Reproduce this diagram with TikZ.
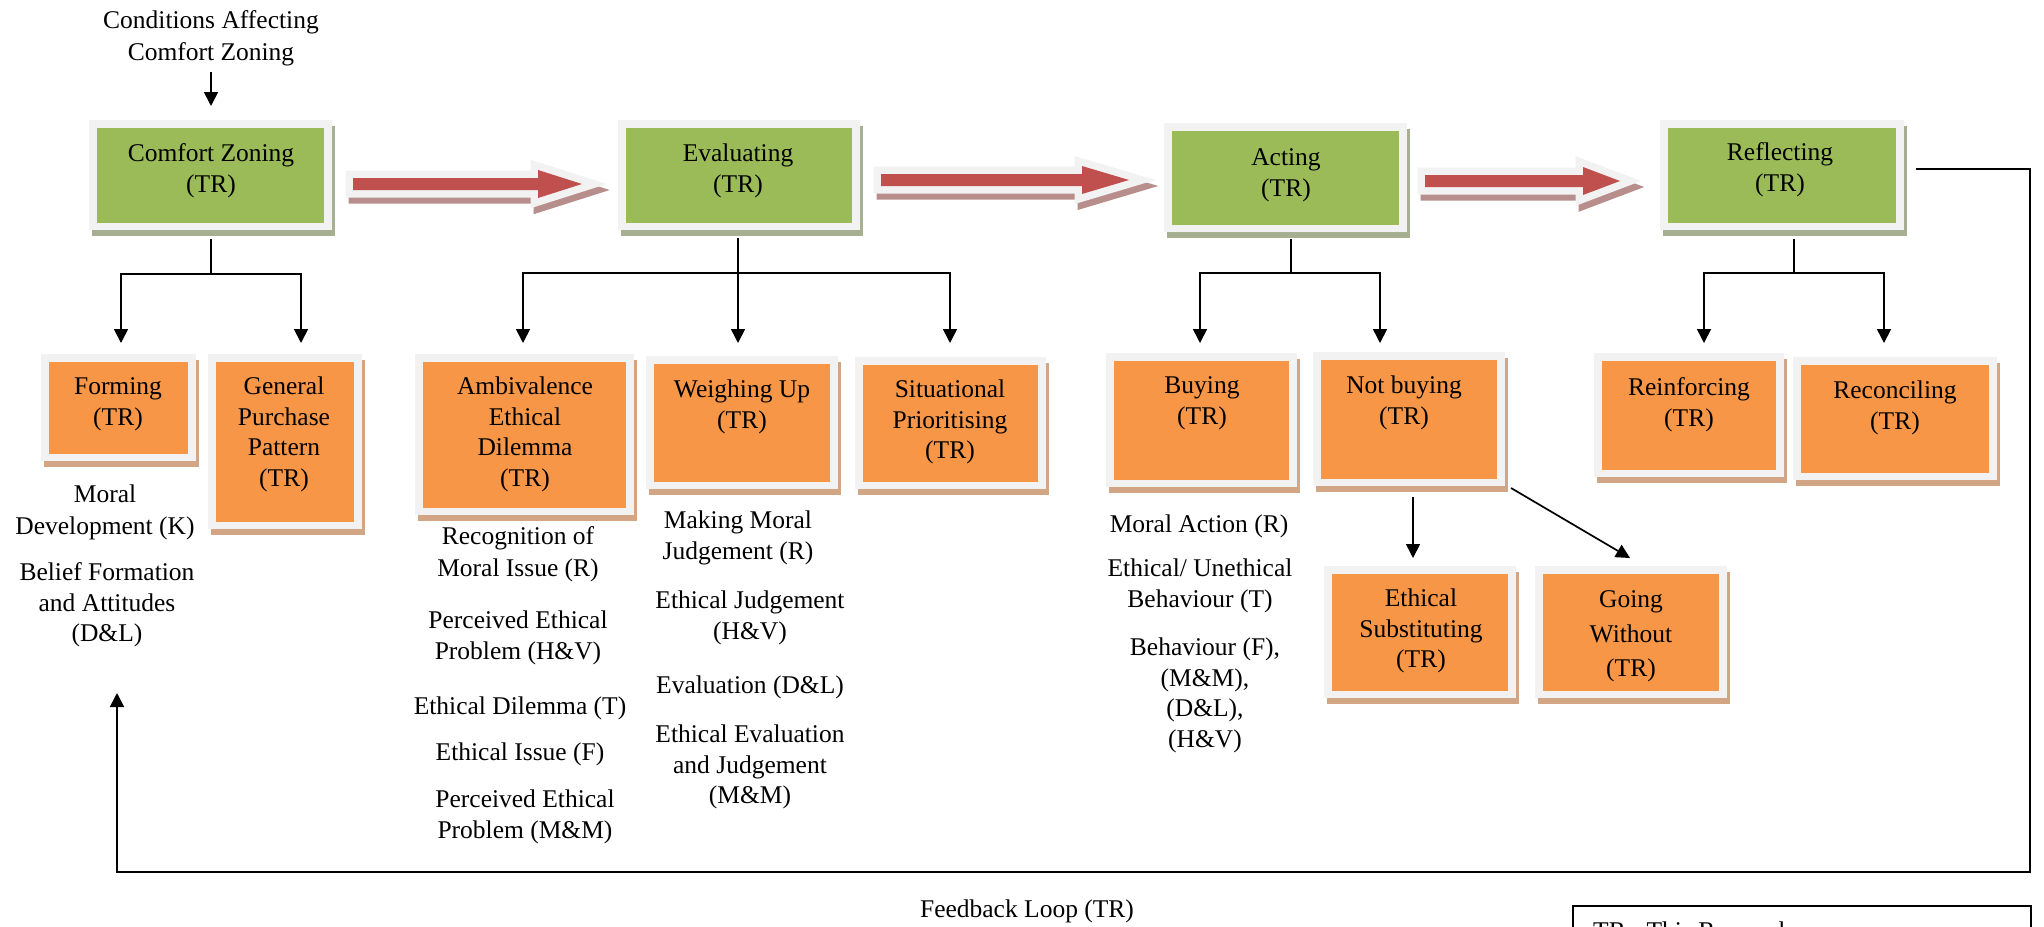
\documentclass[tikz,border=0pt]{standalone}
\usepackage{fontspec}
\setmainfont{Liberation Serif}
\usetikzlibrary{arrows.meta,shadows,calc}

\definecolor{stagegreen}{HTML}{9BBB59}
\definecolor{suborange}{HTML}{F79646}
\definecolor{framegrey}{HTML}{F2F2F2}
\definecolor{greenshadow}{HTML}{A7AF93}
\definecolor{orangeshadow}{HTML}{D2A585}
\definecolor{arrowred}{HTML}{C0504D}
\definecolor{arrowshadow}{HTML}{B88E8C}

\newcommand\dfont{\fontsize{25.5}{30.5}\selectfont}

% thick block arrow with a light outline and a soft offset shadow
% #1 tail point, #2 tip point, #3 head length (pt)
\newcommand\blockarrow[3]{%
  \filldraw[arrowshadow, line width=15pt, line join=miter]
    let \p1=(#1), \p2=(#2) in
    (\x1+3pt,\y1) -- (\x2-#3pt+3pt,\y1) -- (\x2-#3pt+3pt,\y1+8pt) -- (\x2+3pt,\y1-6pt)
    -- (\x2-#3pt+3pt,\y1-20pt) -- (\x2-#3pt+3pt,\y1-12pt) -- (\x1+3pt,\y1-12pt) -- cycle;
  \filldraw[framegrey, line width=15pt, line join=miter]
    let \p1=(#1), \p2=(#2) in
    (\x1,\y1+6pt) -- (\x2-#3pt,\y1+6pt) -- (\x2-#3pt,\y1+14pt) -- (\x2,\y1)
    -- (\x2-#3pt,\y1-14pt) -- (\x2-#3pt,\y1-6pt) -- (\x1,\y1-6pt) -- cycle;
  \fill[arrowred]
    let \p1=(#1), \p2=(#2) in
    (\x1,\y1+6pt) -- (\x2-#3pt,\y1+6pt) -- (\x2-#3pt,\y1+14pt) -- (\x2,\y1)
    -- (\x2-#3pt,\y1-14pt) -- (\x2-#3pt,\y1-6pt) -- (\x1,\y1-6pt) -- cycle;
}

\tikzset{
  boxbase/.style={fill=framegrey, inner sep=0pt, outer sep=0pt},
  stagebox/.style={boxbase,
    general shadow={fill=greenshadow, shadow xshift=3pt, shadow yshift=-6pt},
    path picture={\fill[stagegreen]
      ([shift={(8pt,7pt)}]path picture bounding box.south west) rectangle
      ([shift={(-8pt,-8pt)}]path picture bounding box.north east);}},
  subbox/.style={boxbase,
    general shadow={fill=orangeshadow, shadow xshift=3pt, shadow yshift=-6pt},
    path picture={\fill[suborange]
      ([shift={(8pt,7pt)}]path picture bounding box.south west) rectangle
      ([shift={(-8pt,-8pt)}]path picture bounding box.north east);}},
  txt/.style={anchor=north, inner sep=0pt, align=center, font=\dfont},
  conn/.style={line width=1.7pt},
  arr/.style={conn, -{Triangle[length=14pt,width=14pt]}},
}

\begin{document}
\begin{tikzpicture}[x=1pt, y=-1pt]
\useasboundingbox (0,0) rectangle (2044,926);
\fill[white] (0,0) rectangle (2044,926);
\clip (0,0) rectangle (2044,926);

% ---- main stages ----
\node[stagebox, minimum width=243pt, minimum height=110pt] (cz) at (210.5,175) {};
\node[stagebox, minimum width=242pt, minimum height=110pt] (ev) at (739,175) {};
\node[stagebox, minimum width=243pt, minimum height=109pt] (ac) at (1285.5,177.5) {};
\node[stagebox, minimum width=244pt, minimum height=110pt] (rf) at (1782,175) {};

\node[txt] (czt) at (211,140) {\strut Comfort Zoning\\(TR)};
\node[txt] (evt) at (738,140) {\strut Evaluating\\(TR)};
\node[txt] (act) at (1286,144) {\strut Acting\\(TR)};
\node[txt] (rft) at (1780,139) {\strut Reflecting\\(TR)};

% ---- sub-processes ----
\node[subbox, minimum width=155pt, minimum height=107pt] (fm) at (118.5,407.5) {};
\node[subbox, minimum width=154pt, minimum height=175pt] (gp) at (285,441.5) {};
\node[subbox, minimum width=219pt, minimum height=161pt] (am) at (524.5,434.5) {};
\node[subbox, minimum width=192pt, minimum height=133pt] (wu) at (742,422.5) {};
\node[subbox, minimum width=191pt, minimum height=132pt] (sp) at (950.5,423) {};
\node[subbox, minimum width=191pt, minimum height=134pt] (by) at (1201.5,420) {};
\node[subbox, minimum width=192pt, minimum height=134pt] (nb) at (1409,419) {};
\node[subbox, minimum width=190pt, minimum height=124pt] (ri) at (1689,415) {};
\node[subbox, minimum width=204pt, minimum height=123pt] (rc) at (1895,418.5) {};
\node[subbox, minimum width=192pt, minimum height=132pt] (es) at (1420,632) {};
\node[subbox, minimum width=192pt, minimum height=132pt] (gw) at (1631,632) {};

\node[txt] (fmt) at (118,373) {\strut Forming\\(TR)};
\node[txt] (gpt) at (284,373) {\strut General\\Purchase\\Pattern\\(TR)};
\node[txt] (amt) at (525,373) {\strut Ambivalence\\Ethical\\Dilemma\\(TR)};
\node[txt] (wut) at (742,376) {\strut Weighing Up\\(TR)};
\node[txt] (spt) at (950,376) {\strut Situational\\Prioritising\\(TR)};
\node[txt] (byt) at (1202,372) {\strut Buying\\(TR)};
\node[txt] (nbt) at (1404,372) {\strut Not buying\\(TR)};
\node[txt] (rit) at (1689,374) {\strut Reinforcing\\(TR)};
\node[txt] (rct) at (1895,377) {\strut Reconciling\\(TR)};
\node[txt] (est) at (1421,585) {\strut Ethical\\Substituting\\(TR)};
\node[txt] (gwt) at (1631,586) {\strut Going\\[4pt]Without\\[4pt](TR)};

% ---- block arrows between stages ----
\blockarrow{[shift={(21,9)}]cz.east}{[shift={(-36,9)}]ev.west}{44}
\blockarrow{[shift={(21,5)}]ev.east}{[shift={(-35,2.5)}]ac.west}{47}
\blockarrow{[shift={(18,3.5)}]ac.east}{[shift={(-40,6)}]rf.west}{37}

% ---- free text ----
\node[txt] (cond) at (211,7) {\strut Conditions Affecting\\[1.5pt]Comfort Zoning};
\node[txt] (moral) at (105,481) {\strut Moral\\[1.5pt]Development (K)};
\node[txt] (belief) at (107,559) {\strut Belief Formation\\and Attitudes\\(D\&L)};
\node[txt] (recog) at (518,523) {\strut Recognition of\\[1.5pt]Moral Issue (R)};
\node[txt] (perc1) at (518,607) {\strut Perceived Ethical\\Problem (H\&V)};
\node[txt] (dilem) at (520,693) {\strut Ethical Dilemma (T)};
\node[txt] (issue) at (520,739) {\strut Ethical Issue (F)};
\node[txt] (perc2) at (525,786) {\strut Perceived Ethical\\Problem (M\&M)};
\node[txt] (making) at (738,507) {\strut Making Moral\\Judgement (R)};
\node[txt] (ejudg) at (750,587) {\strut Ethical Judgement\\(H\&V)};
\node[txt] (evald) at (750,672) {\strut Evaluation (D\&L)};
\node[txt] (eeval) at (750,721) {\strut Ethical Evaluation\\and Judgement\\(M\&M)};
\node[txt] (maction) at (1199,511) {\strut Moral Action (R)};
\node[txt] (uneth) at (1200,555) {\strut Ethical/ Unethical\\Behaviour (T)};
\node[txt] (behav) at (1205,634) {\strut Behaviour (F),\\(M\&M),\\(D\&L),\\(H\&V)};
\node[txt] (fbtext) at (1027,896) {\strut Feedback Loop (TR)};

% ---- connectors ----
\draw[arr, shorten <=6pt, shorten >=14pt] (cond.south) -- ([shift={(0.5,0)}]cz.north);

\coordinate (czj) at (211,274);
\draw[conn] ([shift={(0.5,9)}]cz.south) -- (czj);
\draw[arr] (czj) -| ([shift={(2.5,-11)}]fm.north);
\draw[arr] (czj) -| ([shift={(16,-11)}]gp.north);

\coordinate (evj) at (738,273);
\draw[arr] ([shift={(-1,8)}]ev.south) -- ([shift={(-4,-13)}]wu.north);
\draw[arr] (evj) -| ([shift={(-1.5,-11)}]am.north);
\draw[arr] (evj) -| ([shift={(-0.5,-14)}]sp.north);

\coordinate (acj) at (1291,273);
\draw[conn] ([shift={(5.5,7)}]ac.south) -- (acj);
\draw[arr] (acj) -| ([shift={(-1.5,-10)}]by.north);
\draw[arr] (acj) -| ([shift={(-29,-9)}]nb.north);

\coordinate (rfj) at (1794,273);
\draw[conn] ([shift={(12,9)}]rf.south) -- (rfj);
\draw[arr] (rfj) -| ([shift={(15,-10)}]ri.north);
\draw[arr] (rfj) -| ([shift={(-11,-14)}]rc.north);

\draw[arr] ([shift={(4,11)}]nb.south) -- ([shift={(-7,-8)}]es.north);
\draw[arr] ([shift={(6,2)}]nb.south east) -- ([shift={(-1,-8)}]gw.north);

% feedback loop back to the first stage
\coordinate (fbcorner) at (2030,872);
\coordinate (fbend) at (117,693);
\draw[arr] ([shift={(12,-6)}]rf.east) -| (fbcorner) -| (fbend);

% ---- key ----
\node[draw, line width=1.5pt, anchor=north west, minimum width=458pt,
      minimum height=120pt, inner sep=0pt] (legend) at (1572,905) {};
\node[txt, anchor=north west] (legendtxt) at (1593,918) {\strut TR= This Research};
\end{tikzpicture}
\end{document}
